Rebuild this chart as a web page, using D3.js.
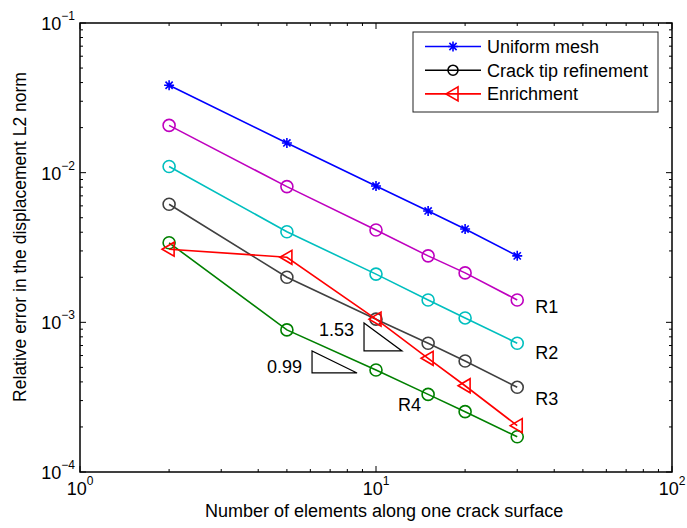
<!DOCTYPE html>
<html><head><meta charset="utf-8">
<script src="https://cdn.jsdelivr.net/npm/d3@7"></script>
<style>body{margin:0;background:#fff}svg{display:block;font-family:"Liberation Sans",Arial,Helvetica,sans-serif}</style>
</head><body><svg id="c" width="687" height="528"></svg>
<script>
const elements = [2, 5, 10, 15, 20, 30];
const uniformMesh = [0.0384, 0.0158, 0.00815, 0.00555, 0.0042, 0.00278];
const refR1 = [0.0207, 0.00807, 0.00414, 0.00278, 0.00214, 0.00141];
const refR2 = [0.011, 0.00403, 0.0021, 0.00141, 0.00107, 0.000725];
const refR3 = [0.00615, 0.0020, 0.00105, 0.000725, 0.000552, 0.000368];
const refR4 = [0.0034, 0.00089, 0.00048, 0.00033, 0.000253, 0.000172];
const enrichment = [0.00308, 0.00272, 0.00105, 0.000575, 0.000377, 0.000204];
const xTicks = [1, 10, 100];
const yTicks = [1e-4, 1e-3, 1e-2, 1e-1];
const seriesNames = ["Uniform mesh", "Crack tip refinement", "Enrichment"];
const curveLabels = ["R1", "R2", "R3", "R4"];
const slopeLabels = ["1.53", "0.99"];
// slope triangle corners in data units: [x0, x1, yTop, yBottom]
const slopeTriangles = [
  [9.11, 12.24, 0.00099, 0.000644],
  [6.08, 8.63, 0.000644, 0.000459]
];

const svg = d3.select("#c");
const L = 80, R = 672, T = 23, B = 472;
const FS = 18;
const x = d3.scaleLog().domain([1, 100]).range([L, R]);
const y = d3.scaleLog().domain([1e-4, 1e-1]).range([B, T]);

// ticks
const g = svg.append("g").attr("stroke", "#000").attr("stroke-width", 1);
function minorVals(lo, hi) {
  const out = [];
  for (let d = lo; d < hi; d *= 10) for (let k = 2; k <= 9; k++) out.push(d * k);
  return out;
}
const xMinor = minorVals(1, 100), yMinor = minorVals(1e-4, 1e-1);
xTicks.forEach(v => {
  g.append("line").attr("x1", x(v)).attr("x2", x(v)).attr("y1", B).attr("y2", B - 6);
  g.append("line").attr("x1", x(v)).attr("x2", x(v)).attr("y1", T).attr("y2", T + 6);
});
xMinor.forEach(v => {
  g.append("line").attr("x1", x(v)).attr("x2", x(v)).attr("y1", B).attr("y2", B - 3);
  g.append("line").attr("x1", x(v)).attr("x2", x(v)).attr("y1", T).attr("y2", T + 3);
});
yTicks.forEach(v => {
  g.append("line").attr("x1", L).attr("x2", L + 6).attr("y1", y(v)).attr("y2", y(v));
  g.append("line").attr("x1", R).attr("x2", R - 6).attr("y1", y(v)).attr("y2", y(v));
});
yMinor.forEach(v => {
  g.append("line").attr("x1", L).attr("x2", L + 3).attr("y1", y(v)).attr("y2", y(v));
  g.append("line").attr("x1", R).attr("x2", R - 3).attr("y1", y(v)).attr("y2", y(v));
});

// tick labels
function expLabel(sel, v) {
  const e = Math.round(Math.log10(v));
  sel.append("tspan").text("10");
  sel.append("tspan").attr("dy", -10).attr("font-size", 12).text(e < 0 ? "\u2212" + (-e) : String(e));
}
xTicks.forEach(v => {
  const t = svg.append("text").attr("x", x(v)).attr("y", B + 23).attr("text-anchor", "middle").attr("font-size", FS);
  expLabel(t, v);
});
yTicks.forEach(v => {
  const t = svg.append("text").attr("x", L - 5).attr("y", y(v) + 7).attr("text-anchor", "end").attr("font-size", FS);
  expLabel(t, v);
});

// axis titles
svg.append("text").attr("x", 205).attr("y", 517).attr("font-size", FS)
  .text("Number of elements along one crack surface");
svg.append("text").attr("transform", `translate(25.5,237) rotate(-90)`).attr("text-anchor", "middle").attr("font-size", 17.5)
  .text("Relative error in the displacement L2 norm");

// markers
function drawStar(sel, cx, cy, color) {
  const r = 5;
  const p = `M${cx - r},${cy}L${cx + r},${cy}M${cx},${cy - r}L${cx},${cy + r}` +
    `M${cx - r * 0.72},${cy - r * 0.72}L${cx + r * 0.72},${cy + r * 0.72}M${cx - r * 0.72},${cy + r * 0.72}L${cx + r * 0.72},${cy - r * 0.72}`;
  sel.append("path").attr("d", p).attr("stroke", color).attr("stroke-width", 1.6).attr("fill", "none");
}
function drawCircle(sel, cx, cy, color) {
  sel.append("circle").attr("cx", cx).attr("cy", cy).attr("r", 6).attr("fill", "none").attr("stroke", color).attr("stroke-width", 1.6);
}
function drawTri(sel, cx, cy, color) {
  const p = `M${cx - 7},${cy}L${cx + 5},${cy - 7}L${cx + 5},${cy + 7}Z`;
  sel.append("path").attr("d", p).attr("fill", "none").attr("stroke", color).attr("stroke-width", 1.6).attr("stroke-linejoin", "miter");
}

const series = [
  {vals: uniformMesh, color: "#0000ff", marker: drawStar},
  {vals: refR1, color: "#bf00bf", marker: drawCircle},
  {vals: refR2, color: "#00bfbf", marker: drawCircle},
  {vals: refR3, color: "#404040", marker: drawCircle},
  {vals: refR4, color: "#008000", marker: drawCircle},
  {vals: enrichment, color: "#ff0000", marker: drawTri}
];
const line = d3.line().x(d => x(d[0])).y(d => y(d[1]));
series.forEach(s => {
  const pts = elements.map((e, i) => [e, s.vals[i]]);
  const sg = svg.append("g");
  sg.append("path").attr("d", line(pts)).attr("fill", "none").attr("stroke", s.color).attr("stroke-width", 1.6);
  pts.forEach(p => s.marker(sg, x(p[0]), y(p[1]), s.color));
});

// curve labels (placed relative to series end points)
const labelPos = [
  {x: x(30) + 18, y: y(refR1[5]) + 13},
  {x: x(30) + 18, y: y(refR2[5]) + 16},
  {x: x(30) + 18, y: y(refR3[5]) + 18},
  {x: x(15) - 30, y: y(refR4[3]) + 17}
];
curveLabels.forEach((t, i) => {
  svg.append("text").attr("x", labelPos[i].x).attr("y", labelPos[i].y).attr("font-size", FS).text(t);
});

// slope triangles
const slopeLabelOffset = [[-10, -15], [-10, 0]];
slopeTriangles.forEach((tr, i) => {
  const [x0, x1, yTop, yBot] = tr;
  const p = `M${x(x0)},${y(yTop)}L${x(x0)},${y(yBot)}L${x(x1)},${y(yBot)}Z`;
  svg.append("path").attr("d", p).attr("fill", "none").attr("stroke", "#000").attr("stroke-width", 1.2);
  svg.append("text").attr("x", x(x0) + slopeLabelOffset[i][0]).attr("y", y(yBot) + slopeLabelOffset[i][1])
    .attr("text-anchor", "end").attr("font-size", FS).text(slopeLabels[i]);
});

// frame
svg.append("rect").attr("x", L).attr("y", T).attr("width", R - L).attr("height", B - T)
  .attr("fill", "none").attr("stroke", "#000").attr("stroke-width", 1.5);

// legend
const lg = svg.append("g");
lg.append("rect").attr("x", 413).attr("y", 32).attr("width", 245).attr("height", 80)
  .attr("fill", "#fff").attr("stroke", "#222").attr("stroke-width", 1);
const legendColors = ["#0000ff", "#000000", "#ff0000"];
const legendMarkers = [drawStar, drawCircle, drawTri];
seriesNames.forEach((n, i) => {
  const ly = 46.5 + i * 23.7;
  lg.append("line").attr("x1", 425).attr("x2", 481).attr("y1", ly).attr("y2", ly).attr("stroke", legendColors[i]).attr("stroke-width", 1.6);
  if (i === 1) lg.append("circle").attr("cx", 453).attr("cy", ly).attr("r", 5).attr("fill", "none").attr("stroke", "#000").attr("stroke-width", 1.6);
  else legendMarkers[i](lg, 453, ly, legendColors[i]);
  lg.append("text").attr("x", 487).attr("y", ly + 6.5).attr("font-size", FS).text(n);
});
</script></body></html>
